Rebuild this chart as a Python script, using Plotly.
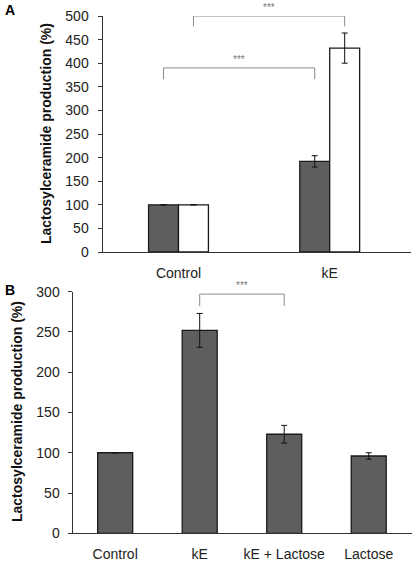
import plotly.graph_objects as go

# ---- Data ----
catA = ["Control", "kE"]
a_dark = [100, 192]
a_dark_err = [0, 12]
a_white = [100, 432]
a_white_err = [0, 32]

catB = ["Control", "kE", "kE + Lactose", "Lactose"]
b_vals = [100, 252, 123, 96]
b_err = [0, 21, 11, 4]

yticksA = [0, 50, 100, 150, 200, 250, 300, 350, 400, 450, 500]
yticksB = [0, 50, 100, 150, 200, 250, 300]

DARK = "#5e5e5e"
EDGE = "#1a1a1a"
AX = "#333333"
GRAY = "#8a8a8a"
FONT = "Liberation Sans, Arial, sans-serif"

W = 0.198
WB = 0.414
xa = list(range(len(catA)))
xb = list(range(len(catB)))

fig = go.Figure()

fig.add_trace(go.Bar(
    x=xa, y=a_dark, width=W, offset=-W, xaxis="x", yaxis="y",
    marker=dict(color=DARK, line=dict(color=EDGE, width=1.3)),
    error_y=dict(type="data", array=a_dark_err, color="#111", thickness=1, width=3),
    showlegend=False))
fig.add_trace(go.Bar(
    x=xa, y=a_white, width=W, offset=0, xaxis="x", yaxis="y",
    marker=dict(color="white", line=dict(color=EDGE, width=1.3)),
    error_y=dict(type="data", array=a_white_err, color="#111", thickness=1, width=3),
    showlegend=False))
fig.add_trace(go.Bar(
    x=xb, y=b_vals, width=WB, xaxis="x2", yaxis="y2",
    marker=dict(color=DARK, line=dict(color=EDGE, width=1.3)),
    error_y=dict(type="data", array=b_err, color="#111", thickness=1, width=3),
    showlegend=False))

# significance brackets
def bracket(x0, x1, ytop, ybot, xr, yr):
    fig.add_shape(type="path",
                  path=f"M {x0} {ybot} L {x0} {ytop} L {x1} {ytop} L {x1} {ybot}",
                  xref=xr, yref=yr, line=dict(color=GRAY, width=1))
    fig.add_annotation(x=(x0 + x1) / 2, y=ytop, xref=xr, yref=yr, text="***",
                       showarrow=False, xanchor="center", yanchor="bottom", yshift=1,
                       font=dict(size=10, color="#777777", family=FONT))

bracket(xa[0] + W / 2, xa[1] + W / 2, 500, 478, "x", "y")
bracket(xa[0] - W / 2, xa[1] - W / 2, 390, 366, "x", "y")
bracket(xb[1], xb[2], 297, 282, "x2", "y2")

axis_common = dict(showline=True, linecolor=AX, linewidth=1, showgrid=False,
                   zeroline=False, automargin=False,
                   tickfont=dict(size=14, color="#222", family=FONT))

fig.update_layout(
    template="none",
    width=416, height=562,
    margin=dict(l=0, r=0, t=0, b=0, pad=0),
    paper_bgcolor="white", plot_bgcolor="white",
    barmode="overlay",
    font=dict(family=FONT),
    xaxis=dict(domain=[102.5 / 416, 411 / 416], range=[-0.5026, 1.5377],
               tickvals=xa, ticktext=catA, ticks="", ticklabelstandoff=8,
               anchor="y", **axis_common),
    yaxis=dict(domain=[(562 - 252) / 562, (562 - 16) / 562], range=[0, 500],
               tickvals=yticksA, ticks="outside", ticklen=4, tickcolor=AX,
               ticklabelstandoff=6, anchor="x", **axis_common),
    xaxis2=dict(domain=[72.5 / 416, 412 / 416], range=[-0.505, 3.512],
                tickvals=xb, ticktext=catB, ticks="", ticklabelstandoff=8,
                anchor="y2", **axis_common),
    yaxis2=dict(domain=[(562 - 533.3) / 562, (562 - 291.7) / 562], range=[0, 300],
                tickvals=yticksB, ticks="outside", ticklen=4, tickcolor=AX,
                ticklabelstandoff=5, anchor="x2", **axis_common),
)

ytitle = "Lactosylceramide production (%)"
fig.add_annotation(x=46 / 416, y=(562 - 134) / 562, xref="paper", yref="paper",
                   xanchor="center", yanchor="middle",
                   text=f"<b>{ytitle}</b>", textangle=-90, showarrow=False,
                   font=dict(size=14, color="#111", family=FONT))
fig.add_annotation(x=17 / 416, y=(562 - 412) / 562, xref="paper", yref="paper",
                   xanchor="center", yanchor="middle",
                   text=f"<b>{ytitle}</b>", textangle=-90, showarrow=False,
                   font=dict(size=14, color="#111", family=FONT))
fig.add_annotation(x=10 / 416, y=(562 - 10) / 562, xref="paper", yref="paper",
                   xanchor="center", yanchor="middle",
                   text="<b>A</b>", showarrow=False,
                   font=dict(size=14, color="#000", family=FONT))
fig.add_annotation(x=10 / 416, y=(562 - 290) / 562, xref="paper", yref="paper",
                   xanchor="center", yanchor="middle",
                   text="<b>B</b>", showarrow=False,
                   font=dict(size=14, color="#000", family=FONT))

fig.write_html("out.html",
               config={"displayModeBar": False, "staticPlot": True},
               post_script="document.body.style.margin='0';document.body.style.overflow='hidden';")
